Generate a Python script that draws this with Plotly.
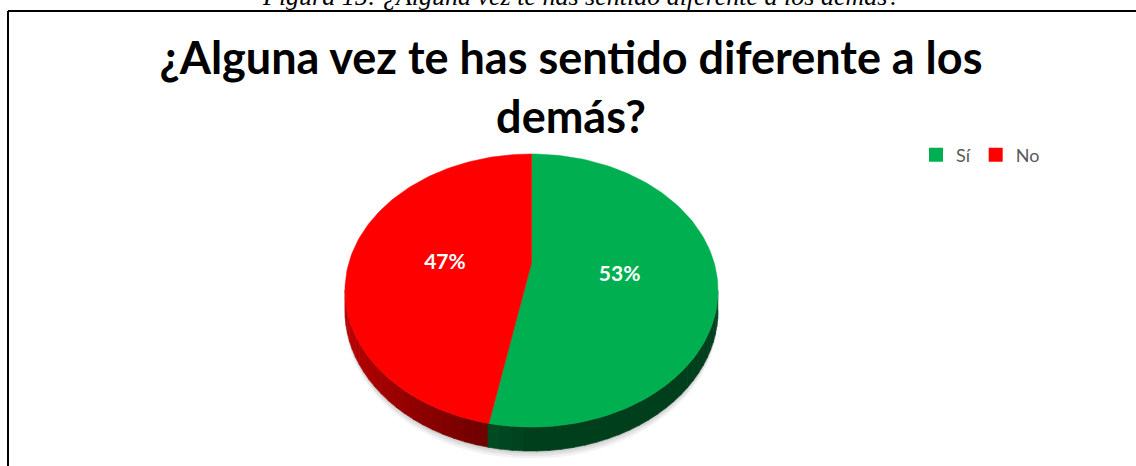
import numpy as np
import plotly.graph_objects as go

# ---- data ----
labels = ["Sí", "No"]
values = [53, 47]
colors = ["#00B050", "#FF0000"]
title_text = "¿Alguna vez te has sentido diferente a los<br>demás?"
caption_text = "Figura 15: ¿Alguna vez te has sentido diferente a los demás?"

# ---- geometry / style (pixels) ----
W, H = 1136, 466
CX, CY = 531.5, 263.0      # projected centre (apex)
RX = 182.7                 # horizontal radius scale
B = 78.0                   # vertical projective coefficient
K = 0.2015                 # perspective strength
DEPTH = 19.2               # thickness of the disc
LABEL_R = 0.48
LABEL_DY = 7


def proj(phi, s=1.0, drop=0.0):
    """phi clockwise from 12 o'clock (radians), s radial fraction."""
    u = s * np.sin(phi)
    v = -s * np.cos(phi)
    den = 1.0 - K * v
    x = CX + RX * u / den
    y = (CY + B * v) / den + drop / den
    return x, y


def hex_rgb(h):
    h = h.lstrip("#")
    return [int(h[i:i + 2], 16) for i in (0, 2, 4)]


fig = go.Figure()

total = float(sum(values))
starts, ends = [], []
acc = 0.0
for v in values:
    starts.append(acc / total * 2 * np.pi)
    acc += v
    ends.append(acc / total * 2 * np.pi)

# soft shadow under the disc
ph = np.linspace(0, 2 * np.pi, 200)
for grow, alpha in [(6, 0.05), (4, 0.06), (2, 0.07)]:
    sx, sy = proj(ph, 1.0, DEPTH + grow)
    fig.add_trace(go.Scatter(x=sx, y=sy, mode="lines", fill="toself",
                             fillcolor=f"rgba(0,0,0,{alpha})",
                             line=dict(width=0), hoverinfo="skip",
                             showlegend=False))

# side walls (visible front part only), shaded per segment
phi_s = np.arccos(-K)
vis0, vis1 = phi_s, 2 * np.pi - phi_s
segments = []
for i, (a0, a1) in enumerate(zip(starts, ends)):
    lo, hi = max(a0, vis0), min(a1, vis1)
    if hi <= lo:
        continue
    n = max(2, int((hi - lo) / np.radians(3)))
    edges = np.linspace(lo, hi, n + 1)
    for e0, e1 in zip(edges[:-1], edges[1:]):
        segments.append((i, e0, e1))
# paint from back (extremes) to front (phi = pi)
segments.sort(key=lambda s: -abs((s[1] + s[2]) / 2 - np.pi))
for i, e0, e1 in segments:
    mid = (e0 + e1) / 2
    f = 0.36 + 0.40 * max(0.0, -np.sin(mid))
    r, g, b = [int(c * f) for c in hex_rgb(colors[i])]
    t = np.linspace(e0, e1 + 0.004, 6)
    tx, ty = proj(t, 1.0, 0.0)
    bx, by = proj(t[::-1], 1.0, DEPTH)
    fig.add_trace(go.Scatter(x=np.r_[tx, bx], y=np.r_[ty, by], mode="lines",
                             fill="toself", fillcolor=f"rgb({r},{g},{b})",
                             line=dict(width=0.6, color=f"rgb({r},{g},{b})"),
                             hoverinfo="skip", showlegend=False))

# top faces
for i, (a0, a1) in enumerate(zip(starts, ends)):
    t = np.linspace(a0, a1, 120)
    ax, ay = proj(t)
    cx0, cy0 = proj(0.0, 0.0)
    fig.add_trace(go.Scatter(x=np.r_[cx0, ax, cx0], y=np.r_[cy0, ay, cy0],
                             mode="lines", fill="toself", fillcolor=colors[i],
                             line=dict(width=0.5, color=colors[i]),
                             name=labels[i], hoverinfo="skip",
                             showlegend=False))

# percentage labels
lx, ly, lt = [], [], []
for i, (a0, a1) in enumerate(zip(starts, ends)):
    x, y = proj((a0 + a1) / 2, LABEL_R)
    lx.append(x)
    ly.append(y + LABEL_DY)
    lt.append(f"{round(values[i] / total * 100)}%")
fig.add_trace(go.Scatter(x=lx, y=ly, text=lt, mode="text",
                         textfont=dict(family="Lato", size=21, color="white",
                                       weight="bold"),
                         hoverinfo="skip", showlegend=False))

# legend entries
for i in range(len(labels)):
    fig.add_trace(go.Scatter(x=[None], y=[None], mode="markers", name=labels[i],
                             marker=dict(symbol="square", size=14,
                                         color=colors[i])))

# chart border (top and left visible)
fig.add_shape(type="line", xref="x", yref="y", x0=8, y0=466, x1=8, y1=11,
              line=dict(color="black", width=2))
fig.add_shape(type="line", xref="x", yref="y", x0=8, y0=11, x1=1136, y1=11,
              line=dict(color="black", width=2))

fig.add_annotation(text=caption_text, xref="x", yref="y", x=581, y=13,
                   showarrow=False, xanchor="center", yanchor="bottom",
                   font=dict(family="Liberation Serif", size=26, color="black",
                             style="italic"))

fig.update_layout(
    width=W, height=H,
    margin=dict(l=0, r=0, t=0, b=0),
    paper_bgcolor="white", plot_bgcolor="white",
    title=dict(text=title_text, x=571 / W, xanchor="center",
               y=1 - 74 / H, yanchor="top", yref="paper",
               font=dict(family="Lato", size=45, color="black", weight="bold")),
    xaxis=dict(range=[0, W], visible=False, fixedrange=True),
    yaxis=dict(range=[H, 0], visible=False, fixedrange=True),
    legend=dict(orientation="h", x=916 / W, xanchor="left",
                y=1 - 155 / H, yanchor="middle",
                font=dict(family="Lato", size=18, color="#595959"),
                bgcolor="rgba(0,0,0,0)", itemwidth=30),
    showlegend=True,
)

fig.write_html("out.html")
